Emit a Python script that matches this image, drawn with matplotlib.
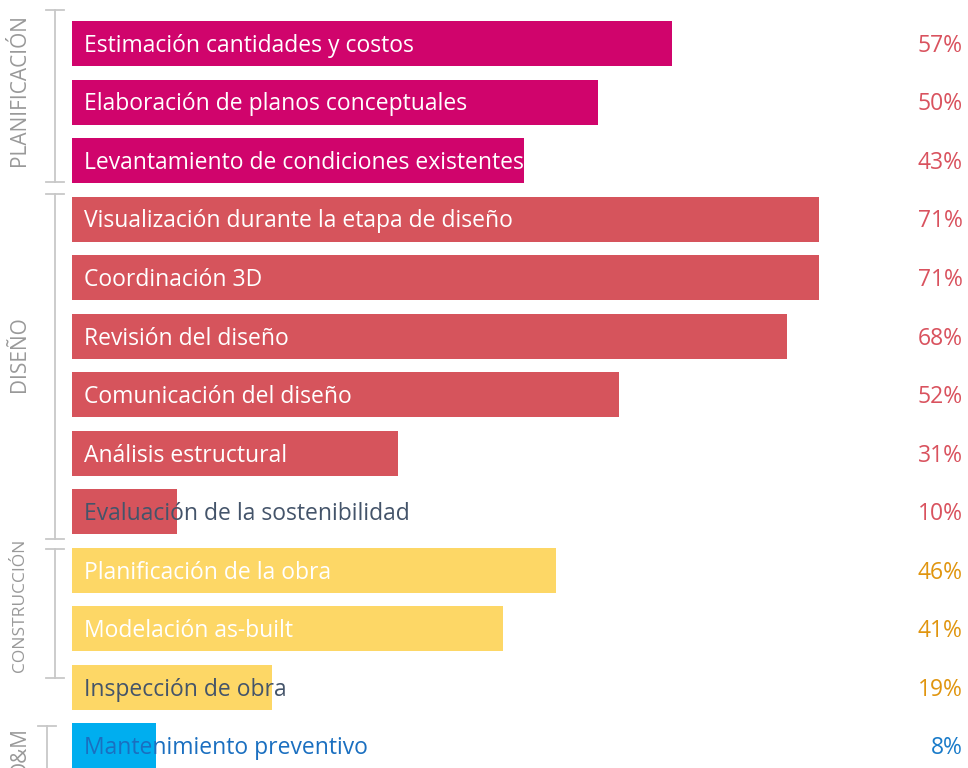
import matplotlib
matplotlib.use('Agg')
import matplotlib.pyplot as plt

# data
tasks = ['Estimación cantidades y costos', 'Elaboración de planos conceptuales',
         'Levantamiento de condiciones existentes',
         'Visualización durante la etapa de diseño', 'Coordinación 3D', 'Revisión del diseño',
         'Comunicación del diseño', 'Análisis estructural', 'Evaluación de la sostenibilidad',
         'Planificación de la obra', 'Modelación as-built', 'Inspección de obra',
         'Mantenimiento preventivo']
values = [57, 50, 43, 71, 71, 68, 52, 31, 10, 46, 41, 19, 8]
phase = ['PLANIFICACIÓN'] * 3 + ['DISEÑO'] * 6 + ['CONSTRUCCIÓN'] * 3 + ['O&M']
phases = ['PLANIFICACIÓN', 'DISEÑO', 'CONSTRUCCIÓN', 'O&M']

bar_col = {'PLANIFICACIÓN': '#D0046C', 'DISEÑO': '#D6545C', 'CONSTRUCCIÓN': '#FDD766', 'O&M': '#00AEEF'}
pct_col = {'PLANIFICACIÓN': '#D9525E', 'DISEÑO': '#D9525E', 'CONSTRUCCIÓN': '#E0950F', 'O&M': '#1A7BC9'}
# text that runs past the bar is drawn dark
dark_text = {'Evaluación de la sostenibilidad': '#44546A', 'Inspección de obra': '#44546A',
             'Mantenimiento preventivo': '#1A6FC0'}

plt.rcParams['font.family'] = ['Open Sans', 'DejaVu Sans']

W, H = 968, 768
fig = plt.figure(figsize=(W / 100, H / 100), dpi=100)
px_per_unit = 10.52
step = 58.54
x0 = 72
ax = fig.add_axes([x0 / W, 0, 1 - x0 / W, 1])
ax.set_xlim(0, (W - x0) / px_per_unit)
ax.set_ylim((H - 43.5) / step, -43.5 / step)
ax.axis('off')

ys = list(range(len(tasks)))
ax.barh(ys, values, height=0.77, color=[bar_col[p] for p in phase])

xmax = (W - x0) / px_per_unit
for y, t, v, p in zip(ys, tasks, values, phase):
    ax.text(1.1, y + 0.04, t, va='center', ha='left', fontsize=16.5,
            color=dark_text.get(t, 'white'))
    ax.text(xmax - 0.5, y + 0.04, f'{v}%', va='center', ha='right', fontsize=16.5,
            color=pct_col[p])

# brackets + phase labels (layout only)
spans = {'PLANIFICACIÓN': (-0.57, 2.37), 'DISEÑO': (2.57, 8.46),
         'CONSTRUCCIÓN': (8.64, 10.84), 'O&M': (11.66, 12.6)}
bx = {'PLANIFICACIÓN': -1.62, 'DISEÑO': -1.62, 'CONSTRUCCIÓN': -1.62, 'O&M': -2.4}
lab_size = {'PLANIFICACIÓN': 15, 'DISEÑO': 15, 'CONSTRUCCIÓN': 12.5, 'O&M': 15}
lab_y = {'PLANIFICACIÓN': 0.8, 'DISEÑO': 5.3, 'CONSTRUCCIÓN': 9.6, 'O&M': 12.1}
for p in phases:
    a, b = spans[p]
    x = bx[p]
    ax.plot([x, x], [a, b], color='#C8C8C8', lw=1.3, clip_on=False)
    for yy in (a, b):
        ax.plot([x - 0.85, x + 0.85], [yy, yy], color='#C8C8C8', lw=1.3, clip_on=False)
    ax.text(-4.95, lab_y[p], p, rotation=90, ha='center', va='center',
            fontsize=lab_size[p], color='#999999', clip_on=False)

fig.savefig('out.png', dpi=100)
